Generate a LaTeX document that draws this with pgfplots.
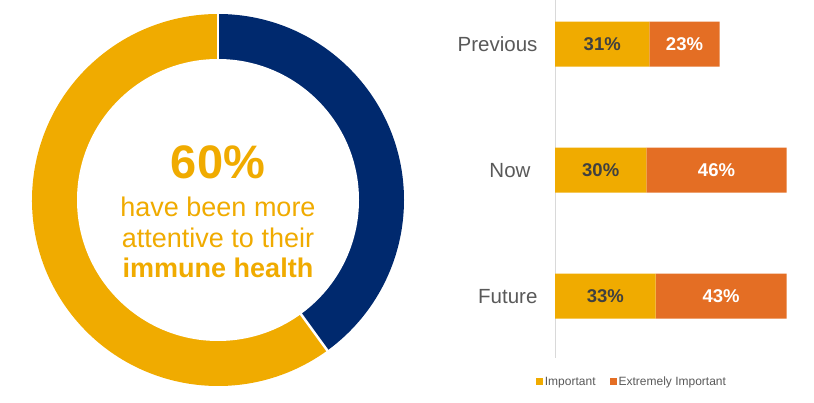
\documentclass[border=0pt]{standalone}
\usepackage{pgfplots}
\pgfplotsset{compat=1.18}
\usepackage{fontspec}
\setmainfont{Liberation Sans}
\definecolor{myyellow}{RGB}{240,171,0}
\definecolor{myorange}{RGB}{228,110,36}
\definecolor{mynavy}{RGB}{0,41,110}
\definecolor{labelgray}{RGB}{89,89,89}
\definecolor{darktext}{RGB}{64,64,64}
\definecolor{axisgray}{RGB}{217,217,217}

\begin{document}
\begin{tikzpicture}[x=1pt,y=1pt]
\path[use as bounding box] (0,0) rectangle (814,403);
\pgfmathsetmacro{\shareblue}{40}
\pgfmathsetmacro{\shareyellow}{60}
\pgfmathsetmacro{\endA}{90-3.6*\shareblue}
\pgfmathsetmacro{\endB}{\endA-3.6*\shareyellow}
% ---------- donut ----------
\begin{axis}[at={(218pt,203pt)}, anchor=center, width=372pt, height=372pt,
  scale only axis, xmin=-1, xmax=1, ymin=-1, ymax=1, hide axis, clip=false]
\fill[mynavy] (axis cs:0,0) -- ++(90:186pt) arc[start angle=90, end angle=\endA, radius=186pt] -- cycle;
\fill[myyellow] (axis cs:0,0) -- ++(\endA:186pt) arc[start angle=\endA, end angle=\endB, radius=186pt] -- cycle;
\draw[white, line width=2.5pt] (axis cs:0,0) -- ++(90:190pt);
\draw[white, line width=2.5pt] (axis cs:0,0) -- ++(\endA:190pt);
\fill[white] (axis cs:0,0) circle[radius=141pt];
\node[anchor=base, text=myyellow, font=\bfseries\fontsize{47}{50}\selectfont, yshift=21pt] at (axis cs:0,0) {60\%};
\node[anchor=base, text=myyellow, font=\fontsize{27}{30}\selectfont, yshift=-17pt] at (axis cs:0,0) {have been more};
\node[anchor=base, text=myyellow, font=\fontsize{27}{30}\selectfont, yshift=-48pt] at (axis cs:0,0) {attentive to their};
\node[anchor=base, text=myyellow, font=\bfseries\fontsize{27}{30}\selectfont, yshift=-78pt] at (axis cs:0,0) {immune health};
\end{axis}
% ---------- stacked bars ----------
\begin{axis}[at={(555pt,45pt)}, anchor=south west, width=259pt, height=358pt,
  scale only axis, xbar stacked, bar width=45pt,
  xmin=0, xmax=85, ymin=-0.49, ymax=2.35,
  axis x line=none, axis y line*=left,
  y axis line style={axisgray, line width=0.8pt},
  ytick={0,1,2}, yticklabels={Future,Now\hspace*{7pt},Previous},
  major tick length=0pt,
  yticklabel style={font=\fontsize{20.5}{24}\selectfont, text=labelgray, xshift=-14pt},
  clip=false,
  legend style={at={(0.297,-0.067)}, anchor=center, draw=none, fill=none,
    legend columns=2, font=\fontsize{12}{14}\selectfont, text=labelgray,
    /tikz/every even column/.append style={column sep=12pt},
    inner sep=0pt},
  legend image code/.code={\fill[#1] (0pt,-3.5pt) rectangle (7pt,3.5pt);},
  ]
\addplot[fill=myyellow, draw=none] coordinates {(33,0) (30,1) (31,2)};
\addplot[fill=myorange, draw=none] coordinates {(43,0) (46,1) (23,2)};
\legend{Important, Extremely Important}
\end{axis}
% ---------- bar value labels ----------
\begin{axis}[at={(555pt,45pt)}, anchor=south west, width=259pt, height=358pt,
  scale only axis, xmin=0, xmax=85, ymin=-0.49, ymax=2.35, hide axis, clip=false,
  nodes near coords align={center}]
\addplot[draw=none, nodes near coords, point meta=explicit symbolic,
  every node near coord/.append style={anchor=center, text=darktext, font=\bfseries\fontsize{18.5}{20}\selectfont}]
  coordinates {(16.5,0) [33\%] (15,1) [30\%] (15.5,2) [31\%]};
\addplot[draw=none, nodes near coords, point meta=explicit symbolic,
  every node near coord/.append style={anchor=center, text=white, font=\bfseries\fontsize{18.5}{20}\selectfont}]
  coordinates {(54.5,0) [43\%] (53,1) [46\%] (42.5,2) [23\%]};
\end{axis}
\end{tikzpicture}
\end{document}
